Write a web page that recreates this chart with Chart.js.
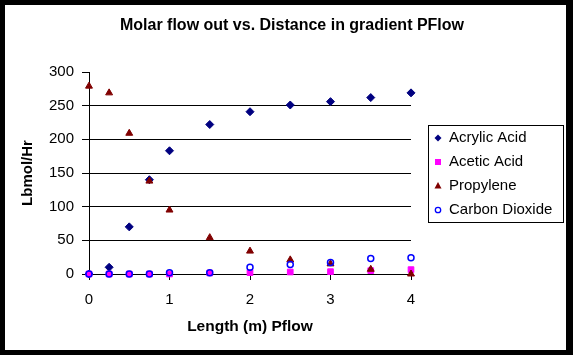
<!DOCTYPE html>
<html><head><meta charset="utf-8">
<script src="https://cdn.jsdelivr.net/npm/chart.js@4"></script>
<style>html,body{margin:0;padding:0;background:#000;} canvas{display:block;}</style>
</head><body>
<canvas id="c" width="573" height="355"></canvas>
<script>
const lengths = [0, 0.25, 0.5, 0.75, 1, 1.5, 2, 2.5, 3, 3.5, 4];
const acrylicAcid = [0, 10, 70, 140, 183, 222, 241, 251, 256, 262, 269];
const aceticAcid = [0, 0, 0, 0, 0, 1.5, 2, 3, 3.5, 5, 6.5];
const propylene = [279, 269, 209, 138, 95, 54, 34, 21, 15, 7, 0];
const carbonDioxide = [0, 0, 0, 0, 2, 2, 10, 14, 17, 23, 24];
const seriesNames = ['Acrylic Acid', 'Acetic Acid', 'Propylene', 'Carbon Dioxide'];
const yTicks = [0, 50, 100, 150, 200, 250, 300];
const xTicks = [0, 1, 2, 3, 4];
const chartTitle = 'Molar flow out vs. Distance in gradient PFlow';

const FONT = '"Liberation Sans", Arial, sans-serif';
Chart.defaults.font.family = FONT;
Chart.defaults.color = '#000';

const pts = arr => lengths.map((x, i) => ({x: x, y: arr[i]}));

const styles = [
  {pointStyle: 'rectRot', backgroundColor: '#000080', borderColor: '#000080', pointRadius: 4, pointBorderWidth: 1, order: 3},
  {pointStyle: 'rect', backgroundColor: '#FF00FF', borderColor: '#FF00FF', pointRadius: 4, pointBorderWidth: 1, order: 2},
  {pointStyle: 'triangle', backgroundColor: '#800000', borderColor: '#800000', pointRadius: 4, pointBorderWidth: 1, order: 1},
  {pointStyle: 'circle', backgroundColor: 'rgba(0,0,0,0)', borderColor: '#0000FF', pointRadius: 3, pointBorderWidth: 1.5, order: 0}
];
const seriesData = [acrylicAcid, aceticAcid, propylene, carbonDioxide];

const datasets = seriesNames.map((name, i) => Object.assign({
  label: name, data: pts(seriesData[i]), showLine: false, clip: false
}, styles[i]));

const frame = {
  id: 'frame',
  beforeDraw(chart) {
    const c = chart.ctx;
    c.save();
    c.fillStyle = '#000';
    c.fillRect(0, 0, chart.width, chart.height);
    c.fillStyle = '#fff';
    c.fillRect(5, 5, 561, 345);
    c.font = 'bold 16px ' + FONT;
    c.fillStyle = '#000';
    c.textAlign = 'center';
    c.textBaseline = 'middle';
    c.fillText(chartTitle, 292, 26);
    c.restore();
  }
};

function marker(c, style, x, y) {
  c.save();
  c.fillStyle = style.backgroundColor;
  c.strokeStyle = style.borderColor;
  c.lineWidth = 1;
  c.beginPath();
  if (style.pointStyle === 'rectRot') {
    c.moveTo(x - 3.5, y); c.lineTo(x, y - 3.5); c.lineTo(x + 3.5, y); c.lineTo(x, y + 3.5); c.closePath();
    c.fill();
  } else if (style.pointStyle === 'rect') {
    c.rect(x - 3, y - 3, 6, 6); c.fill();
  } else if (style.pointStyle === 'triangle') {
    c.moveTo(x, y - 4); c.lineTo(x + 3.5, y + 2.5); c.lineTo(x - 3.5, y + 2.5); c.closePath(); c.fill();
  } else {
    c.arc(x, y, 2.7, 0, Math.PI * 2); c.lineWidth = 1.3; c.stroke();
  }
  c.restore();
}

const legendBox = {
  id: 'legendBox',
  afterDraw(chart) {
    const c = chart.ctx;
    c.save();
    c.strokeStyle = '#000';
    c.lineWidth = 1;
    c.strokeRect(428.5, 125.5, 135, 97);
    c.font = '15px ' + FONT;
    c.fillStyle = '#000';
    c.textBaseline = 'middle';
    seriesNames.forEach((n, i) => {
      const y = 138 + i * 24;
      marker(c, styles[i], 438, y);
      c.fillText(n, 449, y);
    });
    c.restore();
  }
};

new Chart(document.getElementById('c'), {
  type: 'scatter',
  data: {datasets: datasets},
  plugins: [frame, legendBox],
  options: {
    responsive: false,
    animation: false,
    events: [],
    layout: {padding: {left: 0, right: 162, top: 72, bottom: 0}},
    plugins: {
      legend: {display: false},
      tooltip: {enabled: false},
      title: {display: false}
    },
    scales: {
      x: {
        type: 'linear',
        min: 0, max: 4,
        afterFit: s => { s.height = 81; },
        afterBuildTicks: s => { s.ticks = xTicks.map(v => ({value: v})); },
        ticks: {font: {size: 15}, color: '#000', padding: 11, maxRotation: 0},
        grid: {drawOnChartArea: false, drawTicks: true, tickLength: 6, color: '#000', tickColor: '#000'},
        border: {display: true, color: '#000', width: 1},
        title: {display: true, text: 'Length (m) Pflow', font: {size: 15.5, weight: 'bold'}, color: '#000', padding: {top: 0, bottom: 19}}
      },
      y: {
        type: 'linear',
        min: 0, max: 300,
        afterFit: s => { s.width = 89; },
        afterBuildTicks: s => { s.ticks = yTicks.map(v => ({value: v})); },
        ticks: {font: {size: 15}, color: '#000', padding: 8},
        grid: {
          drawTicks: true, tickLength: 7,
          color: ctx => (ctx.tick && ctx.tick.value === 300) ? 'rgba(0,0,0,0)' : '#000',
          tickColor: '#000'
        },
        border: {display: true, color: '#000', width: 1},
        title: {display: true, text: 'Lbmol/Hr', font: {size: 15, weight: 'bold'}, color: '#000', padding: {top: 19, bottom: 0}}
      }
    }
  }
});
</script>
</body></html>
